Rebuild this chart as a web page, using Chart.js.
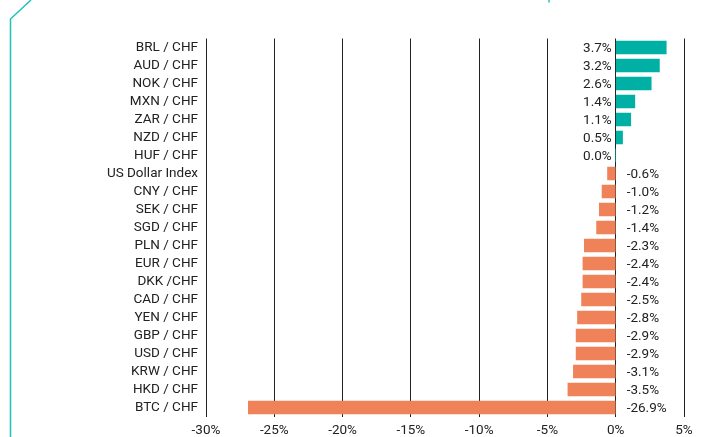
<!DOCTYPE html>
<html>
<head>
<meta charset="utf-8">
<script src="https://cdn.jsdelivr.net/npm/chart.js@4"></script>
<style>
  html, body { margin: 0; padding: 0; background: #fff; }
  canvas { display: block; }
</style>
</head>
<body>
<canvas id="myChart" width="716" height="437"></canvas>
<script>
var labels = ["BRL / CHF", "AUD / CHF", "NOK / CHF", "MXN / CHF", "ZAR / CHF", "NZD / CHF", "HUF / CHF",
    "US Dollar Index", "CNY / CHF", "SEK / CHF", "SGD / CHF", "PLN / CHF", "EUR / CHF", "DKK /CHF",
    "CAD / CHF", "YEN / CHF", "GBP / CHF", "USD / CHF", "KRW / CHF", "HKD / CHF", "BTC / CHF"];
var changes = [3.7, 3.2, 2.6, 1.4, 1.1, 0.5, 0.0, -0.6, -1.0, -1.2, -1.4, -2.3, -2.4, -2.4,
    -2.5, -2.8, -2.9, -2.9, -3.1, -3.5, -26.9];
var xTicks = [-30, -25, -20, -15, -10, -5, 0, 5];

var teal = "#00b0a4", orange = "#f0825a";

// teal frame line on the left
const frame = {
    id: "frame",
    beforeDraw(c) {
        var x = c.ctx;
        x.save();
        x.strokeStyle = "#1fc2b9";
        x.lineWidth = 1.5;
        x.beginPath();
        x.moveTo(31, 0);
        x.lineTo(10.5, 19);
        x.lineTo(10.5, 437);
        x.stroke();
        x.beginPath();
        x.moveTo(549, 0);
        x.lineTo(549, 2.5);
        x.stroke();
        x.restore();
    }
};

// value labels beside the zero line
const valueLabels = {
    id: "valueLabels",
    afterDatasetsDraw(c) {
        var x = c.ctx, xs = c.scales.x, zero = xs.getPixelForValue(0);
        var meta = c.getDatasetMeta(0);
        x.save();
        x.font = "13.5px Roboto";
        x.fillStyle = "#222";
        x.textBaseline = "middle";
        meta.data.forEach(function (bar, i) {
            var v = changes[i];
            var txt = v.toFixed(1) + "%";
            if (v >= 0) {
                x.textAlign = "right";
                x.fillText(txt, zero - 4, bar.y + 1);
            } else {
                x.textAlign = "left";
                x.fillText(txt, zero + 11, bar.y + 1);
            }
        });
        x.restore();
    }
};

var ctx = document.getElementById("myChart").getContext("2d");
new Chart(ctx, {
    type: "bar",
    data: {
        labels: labels,
        datasets: [{
            data: changes,
            backgroundColor: changes.map(v => v >= 0 ? teal : orange),
            barThickness: 13,
            borderWidth: 0
        }]
    },
    options: {
        indexAxis: "y",
        responsive: false,
        animation: false,
        layout: { padding: { top: 38.5, right: 32, left: 0, bottom: 0 } },
        plugins: { legend: { display: false }, tooltip: { enabled: false } },
        scales: {
            x: {
                min: -30, max: 5,
                afterBuildTicks: s => { s.ticks = xTicks.map(v => ({ value: v })); },
                afterFit: s => { s.height = 20.5; },
                grid: { color: "#222", lineWidth: 1, drawTicks: false },
                border: { display: false },
                ticks: {
                    padding: 6,
                    color: "#222",
                    font: { family: "Roboto", size: 13.5 },
                    callback: v => v + "%"
                }
            },
            y: {
                afterFit: s => { s.width = 206; },
                grid: { display: false },
                border: { display: false },
                ticks: {
                    padding: 0,
                    color: "#222",
                    font: { family: "Roboto", size: 13.5 },
                    autoSkip: false
                }
            }
        }
    },
    plugins: [frame, valueLabels]
});
</script>
</body>
</html>
